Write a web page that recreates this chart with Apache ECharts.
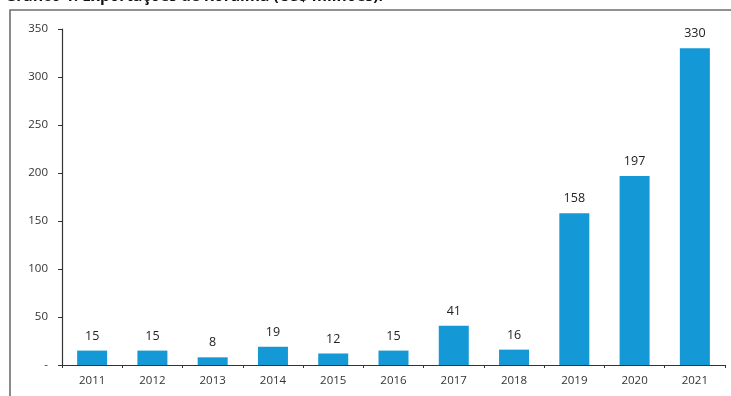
<!DOCTYPE html>
<html>
<head>
<meta charset="utf-8">
<script src="https://cdn.jsdelivr.net/npm/echarts@6/dist/echarts.min.js"></script>
<style>
  html, body { margin: 0; padding: 0; background: #fff; }
  #chart { width: 731px; height: 396px; }
</style>
</head>
<body>
<div id="chart"></div>
<script>
// Exportações de Roraima, US$ milhões
const years = ['2011', '2012', '2013', '2014', '2015', '2016', '2017', '2018', '2019', '2020', '2021'];
const exportsUsd = [15, 15, 8, 19, 12, 15, 41, 16, 158, 197, 330];
const yTicks = [0, 50, 100, 150, 200, 250, 300, 350];
const titleText = 'Gráfico 1: Exportações de Roraima (US$ milhões).';

const chart = echarts.init(document.getElementById('chart'));
const font = '"Open Sans", "Liberation Sans", sans-serif';

chart.setOption({
  animation: false,
  textStyle: { fontFamily: font },
  graphic: [
    {
      type: 'rect',
      shape: { x: 10, y: 10, width: 760, height: 420 },
      style: { fill: 'none', stroke: '#6e6e6e', lineWidth: 1.6 },
      z: 0
    },
    {
      type: 'text',
      left: 5,
      top: -11,
      style: {
        text: titleText,
        font: 'bold 15.5px ' + font,
        fill: '#111'
      }
    }
  ],
  grid: { left: 62, right: 6, top: 29, bottom: 31 },
  xAxis: {
    type: 'category',
    data: years,
    axisLine: { lineStyle: { color: '#333', width: 1.2 } },
    axisTick: { show: true, length: 3, alignWithLabel: false, lineStyle: { color: '#333' } },
    axisLabel: { color: '#333', fontSize: 11.5, margin: 10 }
  },
  yAxis: {
    type: 'value',
    min: yTicks[0],
    max: yTicks[yTicks.length - 1],
    interval: 50,
    axisLine: { show: true, lineStyle: { color: '#333', width: 1.2 } },
    axisTick: { show: true, length: 4, lineStyle: { color: '#333' } },
    splitLine: { show: false },
    axisLabel: {
      color: '#333',
      fontSize: 11.5,
      margin: 14,
      formatter: v => (v === 0 ? '-' : String(v))
    }
  },
  series: [{
    type: 'bar',
    data: exportsUsd,
    barWidth: 30,
    itemStyle: { color: '#1598d6' },
    label: {
      show: true,
      position: 'top',
      distance: 8,
      color: '#222',
      fontSize: 12.5
    }
  }]
});
</script>
</body>
</html>
